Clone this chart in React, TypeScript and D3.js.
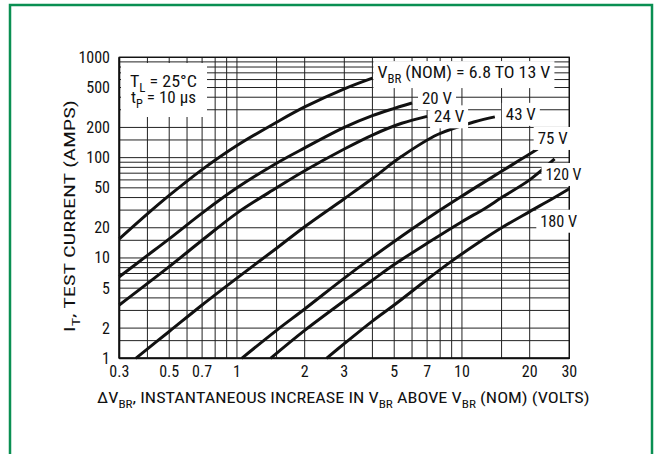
import React, { useEffect, useRef } from "react";
import * as d3 from "d3";

// ---- data ----
const X_TICKS = [0.3, 0.5, 0.7, 1, 2, 3, 5, 7, 10, 20, 30];
const Y_TICKS = [1, 2, 5, 10, 20, 50, 100, 200, 500, 1000];
const GRID_MANTISSAS = [1, 1.5, 2, 3, 4, 5, 6, 7, 8, 9];

const s68: [number, number][] = [[0.3, 15.5], [0.4, 27.5], [0.5, 42], [0.7, 76], [1, 132], [1.5, 225], [2, 320], [3, 485], [4, 620]];
const s20: [number, number][] = [[0.3, 6.5], [0.4, 10.6], [0.5, 15.5], [0.7, 28], [1, 50], [1.5, 88], [2, 125], [3, 200], [4, 262], [6, 350]];
const s24: [number, number][] = [[0.3, 3.4], [0.5, 8.2], [0.7, 15], [1, 28], [1.5, 50], [2, 74], [3, 122], [4, 168], [5.4, 220], [7, 258]];
const s43: [number, number][] = [[0.355, 1], [0.5, 1.85], [0.7, 3.4], [1, 6.3], [1.5, 12.5], [2, 20.5], [3, 39], [4, 62], [5.4, 103], [7.8, 170], [11.4, 228], [14, 255]];
const s75: [number, number][] = [[1.05, 1], [1.5, 1.9], [2, 3.1], [3, 6.3], [4, 10.2], [5, 14.6], [6, 19.4], [8, 30], [10, 41.5], [12, 53.5], [15, 73], [18, 94], [21.7, 122]];
const s120: [number, number][] = [[1.41, 1], [2, 1.9], [3, 3.75], [4, 6], [5, 8.6], [7, 14], [10, 23], [12.6, 31], [15, 40], [20, 60], [25.8, 97]];
const s180: [number, number][] = [[2.5, 1], [3, 1.4], [4, 2.35], [5, 3.4], [7, 6.1], [9, 9.3], [12, 14.5], [15, 20], [20, 29], [25, 38.5], [30, 49]];

const SERIES = [s68, s20, s24, s43, s75, s120, s180];
const SERIES_LABELS = ["6.8 TO 13 V", "20 V", "24 V", "43 V", "75 V", "120 V", "180 V"];

// label layout (pixel offsets from curve end) and target widths
const LABEL_OFFSETS: [number, number][] = [[5, 0], [10, 1], [7, 6], [11, 3], [0, -5], [-9, 21], [-29, 38]];
const LABEL_WIDTHS = [173, 30, 30, 30, 30, 36, 37];

const FONT = "'Liberation Sans Narrow', 'Arial Narrow', 'Roboto Condensed', sans-serif";

export default function App() {
  const ref = useRef<SVGSVGElement | null>(null);

  useEffect(() => {
    const svg = d3.select(ref.current);
    svg.selectAll("*").remove();

    const x = d3.scaleLog().domain([0.3, 30]).range([119.3, 569.3]);
    const y = d3.scaleLog().domain([1, 1000]).range([358.3, 57.3]);
    const [x0, x1] = x.range();
    const [y0, y1] = y.range();

    // outer frame
    svg.append("rect").attr("x", 10).attr("y", 5).attr("width", 642).attr("height", 470)
      .attr("fill", "white").attr("stroke", "#0a8f52").attr("stroke-width", 2.5);

    const xGrid: number[] = [];
    const yGrid: number[] = [];
    for (const dec of [0.1, 1, 10, 100]) {
      for (const m of GRID_MANTISSAS) {
        const v = +(m * dec).toPrecision(3);
        if (v >= 0.3 - 1e-9 && v <= 30 + 1e-9) xGrid.push(v);
      }
    }
    for (const dec of [1, 10, 100, 1000]) {
      for (const m of GRID_MANTISSAS) {
        const v = m * dec;
        if (v >= 1 && v <= 1000) yGrid.push(v);
      }
    }

    const g = svg.append("g");
    g.selectAll(".vg").data(xGrid).join("line")
      .attr("x1", d => x(d)).attr("x2", d => x(d)).attr("y1", y0).attr("y2", y1)
      .attr("stroke", "#222").attr("stroke-width", 1);
    g.selectAll(".hg").data(yGrid).join("line")
      .attr("y1", d => y(d)).attr("y2", d => y(d)).attr("x1", x0).attr("x2", x1)
      .attr("stroke", "#222").attr("stroke-width", 1);

    // curves
    const line = d3.line<[number, number]>().x(d => x(d[0])).y(d => y(d[1])).curve(d3.curveCatmullRom.alpha(0.5));
    svg.append("g").selectAll("path").data(SERIES).join("path")
      .attr("d", d => line(d) as string).attr("fill", "none").attr("stroke", "#111")
      .attr("stroke-width", 3).attr("stroke-linecap", "butt");

    // plot frame
    svg.append("rect").attr("x", x0).attr("y", y1).attr("width", x1 - x0).attr("height", y0 - y1)
      .attr("fill", "none").attr("stroke", "#111").attr("stroke-width", 1.3);
    svg.append("line").attr("x1", x0).attr("x2", x0).attr("y1", y1).attr("y2", y0)
      .attr("stroke", "#111").attr("stroke-width", 2);
    svg.append("line").attr("x1", x0).attr("x2", x1).attr("y1", y0).attr("y2", y0)
      .attr("stroke", "#111").attr("stroke-width", 2);

    // helper: text with subscripts. parts: [text, isSub]
    const addText = (parent: any, px: number, py: number, parts: [string, boolean][], size: number, anchor = "start") => {
      const t = parent.append("text").attr("x", px).attr("y", py).attr("font-family", FONT)
        .attr("font-size", size).attr("fill", "#111").attr("text-anchor", anchor);
      let down = false;
      parts.forEach(([s, sub]) => {
        const ts = t.append("tspan").text(s);
        if (sub && !down) { ts.attr("dy", size * 0.3).attr("font-size", size * 0.72); down = true; }
        else if (!sub && down) { ts.attr("dy", -size * 0.3); down = false; }
        else if (sub) ts.attr("font-size", size * 0.72);
      });
      return t;
    };

    // group with text, scaled horizontally around px to reach target width
    const fitted = (parts: [string, boolean][], px: number, py: number, size: number, width: number,
      anchor = "start", box: [number, number] | null = null) => {
      const grp = svg.append("g");
      const t = addText(grp, px, py, parts, size, anchor);
      const bb = (t.node() as SVGTextElement).getBBox();
      const k = width / bb.width;
      if (box) {
        grp.insert("rect", "text").attr("x", bb.x - box[0] / k).attr("y", bb.y - box[1])
          .attr("width", bb.width + 2 * box[0] / k).attr("height", bb.height + 2 * box[1]).attr("fill", "white");
      }
      grp.attr("transform", `translate(${px},0) scale(${k},1) translate(${-px},0)`);
      return grp;
    };

    // legend box top-left
    svg.append("rect").attr("x", 121).attr("y", 63).attr("width", 86).attr("height", 54).attr("fill", "white");
    fitted([["T", false], ["L", true], [" = 25°C", false]], 130, 87, 16.5, 67);
    fitted([["t", false], ["P", true], [" = 10 µs", false]], 131, 103.5, 16.5, 65);

    // series labels
    SERIES.forEach((s, i) => {
      const last = s[s.length - 1];
      const px = x(last[0]) + LABEL_OFFSETS[i][0];
      const py = y(last[1]) + LABEL_OFFSETS[i][1];
      const parts: [string, boolean][] = i === 0
        ? [["V", false], ["BR", true], [" (NOM) = " + SERIES_LABELS[i], false]]
        : [[SERIES_LABELS[i], false]];
      fitted(parts, px, py, 16.5, LABEL_WIDTHS[i], "start", [4, 2]);
    });

    // tick labels
    svg.append("g").selectAll("text").data(X_TICKS).join("text")
      .attr("x", d => x(d)).attr("y", 377).attr("text-anchor", "middle")
      .attr("font-family", FONT).attr("font-size", 16).attr("fill", "#111").text(d => String(d));
    svg.append("g").selectAll("text").data(Y_TICKS).join("text")
      .attr("x", 110).attr("y", d => y(d) + 5.5).attr("text-anchor", "end")
      .attr("font-family", FONT).attr("font-size", 16).attr("fill", "#111").text(d => String(d));

    // axis titles
    fitted([["ΔV", false], ["BR", true], [", INSTANTANEOUS INCREASE IN V", false], ["BR", true],
      [" ABOVE V", false], ["BR", true], [" (NOM) (VOLTS)", false]], (x0 + x1) / 2 - 1, 403, 15.5, 493, "middle");

    const ytg = svg.append("g");
    const yt = addText(ytg, 0, 0, [["I", false], ["T", true], [", TEST CURRENT (AMPS)", false]], 15.5, "middle");
    const ybb = (yt.node() as SVGTextElement).getBBox();
    const ky = 232 / ybb.width;
    ytg.attr("transform", `translate(75,216) rotate(-90) scale(${ky},1)`);
  }, []);

  return (
    <svg ref={ref} width={660} height={454} style={{ position: "absolute", left: 0, top: 0 }} />
  );
}
